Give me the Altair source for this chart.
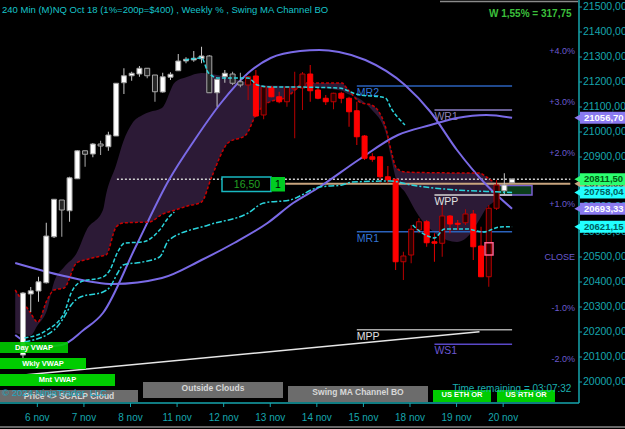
import altair as alt
import pandas as pd

FONT = "Liberation Sans"
TEAL = "#16a6ae"

# ---------------- candles (240 min bars) ----------------
opens = [20108, 20352, 20364, 20397, 20581, 20728, 20685, 20813, 20925, 20912,
         20952, 20941, 20984, 21197, 21225, 21232, 21255, 21228, 21160, 21219,
         21245, 21284, 21288, 21293, 21304, 21157, 21221, 21232, 21201, 21188,
         21224, 21068, 21179, 21141, 21121, 21172, 21176, 21232, 21168, 21135,
         21121, 21155, 21135, 21085, 20984, 20901, 20901, 20821, 20811, 20481,
         20508, 20608, 20641, 20561, 20555, 20664, 20635, 20637, 20672, 20544,
         20421, 20695, 20765, 20797]
highs = [20360, 20380, 20421, 20637, 20732, 20728, 20821, 20928, 20925, 20956,
         20965, 21001, 21196, 21255, 21241, 21264, 21256, 21228, 21237, 21239,
         21312, 21299, 21324, 21341, 21308, 21211, 21248, 21241, 21237, 21224,
         21248, 21184, 21184, 21161, 21181, 21241, 21240, 21268, 21181, 21148,
         21157, 21161, 21141, 21121, 20988, 20915, 20901, 20864, 20812, 20521,
         20628, 20655, 20648, 20595, 20708, 20668, 20648, 20691, 20688, 20621,
         20708, 20808, 20835, 20815]
lows = [20090, 20280, 20321, 20394, 20576, 20581, 20641, 20812, 20861, 20899,
        20908, 20925, 20984, 21152, 21205, 21221, 21215, 21121, 21157, 21208,
        21244, 21275, 21281, 21275, 21156, 21101, 21197, 21188, 21179, 21128,
        21060, 21051, 21139, 21115, 21101, 20975, 21088, 21121, 21131, 21108,
        21091, 21115, 21021, 20948, 20888, 20881, 20795, 20795, 20448, 20408,
        20475, 20595, 20541, 20481, 20501, 20595, 20608, 20628, 20488, 20421,
        20381, 20688, 20748, 20796]
closes = [20356, 20365, 20401, 20584, 20731, 20688, 20817, 20925, 20911, 20952,
          20944, 20988, 21195, 21225, 21235, 21255, 21225, 21161, 21221, 21231,
          21284, 21291, 21295, 21304, 21157, 21211, 21235, 21195, 21188, 21221,
          21064, 21181, 21141, 21121, 21179, 21176, 21232, 21165, 21135, 21121,
          21155, 21135, 21081, 20981, 20895, 20891, 20821, 20808, 20481, 20504,
          20611, 20641, 20557, 20555, 20664, 20632, 20631, 20672, 20541, 20421,
          20695, 20788, 20788, 20811.5]
# W = white up, G = grey down, R = red down, D = dark red up
kinds = ["W", "W", "W", "W", "W", "G", "W", "W", "G", "W",
         "G", "W", "W", "W", "W", "W", "G", "G", "W", "W",
         "W", "W", "W", "W", "G", "W", "W", "G", "G", "D",
         "R", "D", "R", "R", "D", "D", "D", "R", "R", "R",
         "D", "R", "R", "R", "R", "R", "R", "R", "R", "D",
         "D", "D", "R", "R", "D", "R", "R", "D", "R", "R",
         "D", "D", "W", "W"]

# ---------------- axes ----------------
day_labels = ["6 nov", "7 nov", "8 nov", "11 nov", "12 nov", "13 nov",
              "14 nov", "15 nov", "18 nov", "19 nov", "20 nov"]
day_start_bar = [1.85, 7.85, 13.85, 19.85, 25.85, 31.85, 37.85, 43.85, 49.85, 55.85, 61.85]
price_ticks = list(range(20000, 21501, 100))

# ---------------- overlays ----------------
cloud_i = [-1.0, 0.9, 1.9, 3.1, 4.0, 5.3, 6.9, 8.2, 10.3, 10.7, 12.0, 12.9, 14.1, 15.4, 16.3,
           17.9, 19.6, 21.1, 23.0, 24.3, 26.4, 28.7, 30.0, 31.5, 34.0, 35.3, 36.0, 41.1, 41.6,
           43.6, 44.9, 46.7, 47.4, 48.1, 49.2, 50.9, 53.4, 55.9, 57.8, 58.8, 59.7, 60.6, 61.6, 63.0]
cloud_a = [20368, 20280, 20240, 20328, 20368, 20376, 20476, 20490, 20505, 20508, 20620, 20636,
           20638, 20639, 20640, 20670, 20688, 20703, 20720, 20820, 20956, 20988, 21068, 21116,
           21140, 21176, 21196, 21196, 21180, 21116, 21108, 21020, 20928, 20856, 20840, 20838,
           20837, 20836, 20836, 20836, 20820, 20800, 20795, 20790]
cloud_b = [20196, 20184, 20228, 20288, 20400, 20460, 20515, 20608, 20688, 20750, 20868, 20960,
           21036, 21068, 21080, 21096, 21200, 21220, 21236, 21232, 21218, 21200, 21190, 21186,
           21184, 21184, 21182, 21165, 21156, 21128, 21090, 21000, 20900, 20808, 20760, 20668,
           20588, 20560, 20600, 20650, 20696, 20720, 20748, 20768]

chan_i = [-1.0, 5.3, 11.6, 17.9, 23.0, 27.2, 31.5, 34.8, 38.2, 43.2, 48.3, 52.5, 55.9, 59.7, 63.0]
chan_p = [20476, 20424, 20392, 20416, 20488, 20556, 20636, 20716, 20780, 20888, 20988, 21028,
          21056, 21068, 21056.70]

arc_i = [-1.0, 2.1, 5.0, 7.8, 10.3, 14.5, 18.8, 22.1, 25.5, 29.0, 31.9, 35.7, 38.2, 40.7, 44.1,
         49.2, 52.5, 55.9, 59.7, 63.0]
arc_p = [20188, 20140, 20148, 20208, 20276, 20540, 20808, 20968, 21116, 21236, 21296, 21324,
         21328, 21320, 21288, 21188, 21080, 20928, 20788, 20693.33]

wk1_i = [0.2, 3.1, 5.3, 6.2, 7.4, 10.3, 11.2, 12.2, 13.1, 15.4, 17.6, 18.8, 19.5]
wk1_p = [20176, 20208, 20276, 20356, 20400, 20420, 20448, 20520, 20556, 20560, 20608, 20660, 20680]
wk2_i = [20.9, 23.0, 23.9, 25.2, 29.0, 30.2, 31.9, 34.0, 40.7, 42.9, 46.7, 47.4, 49.2]
wk2_p = [21288, 21296, 21236, 21216, 21216, 21188, 21180, 21180, 21176, 21152, 21136, 21096, 21028]
wk3_i = [50.2, 51.2, 52.5, 53.0, 54.3, 57.2, 59.3, 61.4, 63.0]
wk3_p = [20628, 20600, 20580, 20576, 20612, 20612, 20600, 20620, 20621.15]
mon_i = [0.2, 4.0, 5.3, 6.2, 7.4, 10.3, 11.2, 12.2, 12.9, 15.4, 17.6, 18.8, 23.9, 29.0, 31.0,
         34.4, 38.2, 41.1, 42.4, 47.4, 50.0, 55.9, 59.7, 63.0]
mon_p = [20160, 20208, 20260, 20308, 20340, 20360, 20380, 20436, 20468, 20480, 20500, 20568,
         20628, 20676, 20716, 20728, 20780, 20788, 20800, 20804, 20788, 20768, 20762, 20758.04]

diag_i = [-2.3, 58.8]
diag_p = [20021, 20201]

piv_names = ["MR2", "WR1", "WPP", "MR1", "MPP", "WS1"]
piv_price = [21184, 21088, 20748, 20601, 20209, 20151]
piv_start = [43.0, 53.0, 53.0, 43.0, 43.0, 53.0]
piv_end = [63.0, 63.0, 63.0, 63.0, 63.0, 63.0]
piv_line_col = ["#2b62bc", "#8c7fc8", "#d6d6d6", "#2b62bc", "#a8a8a8", "#5a48c8"]
piv_text_col = ["#3476d6", "#8c80b4", "#e0e0e0", "#3476d6", "#e0e0e0", "#6a56d0"]

pct_text = ["+4.0%", "+3.0%", "+2.0%", "+1.0%", "CLOSE", "-1.0%", "-2.0%"]
pct_price = [21325, 21121, 20916, 20712, 20501, 20297, 20091]

last_price = 20811.50
tan_price = 20793
dotted_start, tan_start, lines_end = 12.1, 33.8, 70.5

tag_price = [21056.70, 20793.00, 20811.50, 20758.04, 20693.33, 20621.15]
tag_text = ["21056,70", "20793,00", "20811,50", "20758,04", "20693,33", "20621,15"]
tag_fill = ["#8a7af0", "#c8a882", "#2cff70", "#22ffff", "#8a7af0", "#22ffff"]
tag_tcol = ["#ffffff", "#222222", "#005a10", "#006060", "#ffffff", "#006060"]

# ---------------- scales ----------------
XS = alt.Scale(domain=[-2.316, 70.975], nice=False, zero=False)
YS = alt.Scale(domain=[19916, 21528], nice=False, zero=False)


def xe(f):
    return alt.X(f, type="quantitative", scale=XS, axis=None)


def ye(f):
    return alt.Y(f, type="quantitative", scale=YS, axis=None)


style = {
    "W": ("#ffffff", "#9a9a9a", "#c8c8c8"),
    "G": ("#262626", "#a8a8a8", "#a8a8a8"),
    "R": ("#ff0000", "#ff0000", "#e00000"),
    "D": ("#2a0000", "#b80000", "#b80000"),
}
cdf = pd.DataFrame({"i": list(range(len(opens))), "o": opens, "h": highs, "l": lows, "c": closes, "k": kinds})
cdf["fill"] = [style[k][0] for k in kinds]
cdf["stroke"] = [style[k][1] for k in kinds]
cdf["wick"] = [style[k][2] for k in kinds]


def line(i, p, color, width=1.5, dash=None, interp="monotone"):
    kw = dict(color=color, strokeWidth=width, interpolate=interp)
    if dash:
        kw["strokeDash"] = dash
    return alt.Chart(pd.DataFrame({"i": i, "p": p})).mark_line(**kw).encode(x=xe("i"), y=ye("p"))


def one():
    return alt.Chart(pd.DataFrame({"k": [0]}))


def box(x0, x1, y0, y1, fill, stroke="", sw=0, opacity=1.0):
    kw = dict(fill=fill, opacity=opacity)
    if stroke:
        kw["stroke"] = stroke
        kw["strokeWidth"] = sw
    return one().mark_rect(**kw).encode(x=alt.value(x0), x2=alt.value(x1), y=alt.value(y0), y2=alt.value(y1))


def label(txt, x, y, color, size, bold=False, align="left"):
    return alt.Chart(pd.DataFrame({"t": [txt]})).mark_text(
        font=FONT, fontSize=size, color=color, align=align, baseline="middle",
        fontWeight="bold" if bold else "normal").encode(x=alt.value(x), y=alt.value(y), text="t:N")


layers = []

# cloud
layers.append(alt.Chart(pd.DataFrame({"i": cloud_i, "a": cloud_a, "b": cloud_b}))
              .mark_area(color="#2c1a36", opacity=1, interpolate="monotone")
              .encode(x=xe("i"), y=ye("a"), y2="b"))

# dark green box near the last bars
layers.append(box(498, 532, 185.5, 195, "#0b3d1c", "#7a5fd0", 1.5))

# pivot lines and labels
pdf = pd.DataFrame({"n": piv_names, "p": piv_price, "s": piv_start, "e": piv_end,
                    "lc": piv_line_col, "tc": piv_text_col})
layers.append(alt.Chart(pdf).mark_rule(strokeWidth=1.5).encode(
    x=xe("s"), x2="e", y=ye("p"), color=alt.Color("lc:N", scale=None)))
layers.append(alt.Chart(pdf).mark_text(font=FONT, fontSize=10.5, align="left", baseline="top", dy=2).encode(
    x=xe("s"), y=ye("p"), text="n:N", color=alt.Color("tc:N", scale=None)))

# monthly diagonal
layers.append(line(diag_i, diag_p, "#e6e6e6", 1.5, interp="linear"))

# dotted last-price line and tan line
layers.append(alt.Chart(pd.DataFrame({"s": [dotted_start], "e": [lines_end], "p": [last_price]}))
              .mark_rule(color="#d0d0d0", strokeWidth=1.5, strokeDash=[2, 2])
              .encode(x=xe("s"), x2="e", y=ye("p")))
layers.append(alt.Chart(pd.DataFrame({"s": [tan_start], "e": [lines_end], "p": [tan_price]}))
              .mark_rule(color="#c8a47e", strokeWidth=2)
              .encode(x=xe("s"), x2="e", y=ye("p")))

# channel lines
layers.append(line(chan_i, chan_p, "#7a6ae6", 2))
layers.append(line(arc_i, arc_p, "#7a6ae6", 2))

# red dashed cloud edge
layers.append(line(cloud_i[:-2], cloud_a[:-2], "#c80000", 1.5, [3, 2]))

# candles
layers.append(alt.Chart(cdf).mark_rule(strokeWidth=1).encode(
    x=xe("i"), y=ye("l"), y2="h", color=alt.Color("wick:N", scale=None)))
layers.append(alt.Chart(cdf).mark_bar(size=5, strokeWidth=1).encode(
    x=xe("i"), y=ye("o"), y2="c",
    fill=alt.Fill("fill:N", scale=None), stroke=alt.Stroke("stroke:N", scale=None)))

# VWAP lines
layers.append(line(wk1_i, wk1_p, "#2ad4dc", 1.5, [4, 2]))
layers.append(line(wk2_i, wk2_p, "#2ad4dc", 1.5, [4, 2]))
layers.append(line(wk3_i, wk3_p, "#2ad4dc", 1.5, [4, 2]))
layers.append(line(mon_i, mon_p, "#2ad4dc", 1.5, [6, 2, 2, 2]))

# pink marker
layers.append(box(485, 493, 242.7, 255, "transparent", "#ff6090", 1.5))

# position box
layers.append(box(222, 271, 177, 191.5, "#000000", "#18b8c0", 1.5))
layers.append(box(271, 285, 177, 191.5, "#00cc22"))
layers.append(label("16,50", 247, 184.5, "#22a022", 10.5, align="center"))
layers.append(label("1", 278, 184.5, "#000000", 10.5, align="center"))

# percent labels
layers.append(alt.Chart(pd.DataFrame({"t": pct_text, "p": pct_price})).mark_text(
    font=FONT, fontSize=9, color="#6a5acd", align="right", baseline="middle").encode(
    x=alt.value(575), y=ye("p"), text="t:N"))

# ---------------- axes drawn through the scales ----------------
xt = pd.DataFrame({"i": day_start_bar, "t": day_labels})
yt = pd.DataFrame({"p": price_ticks, "t": [("%.2f" % v).replace(".", ",") for v in price_ticks]})
layers.append(one().mark_rule(color=TEAL, strokeWidth=1.5).encode(
    x=alt.value(0), x2=alt.value(579), y=alt.value(403)))
layers.append(one().mark_rule(color=TEAL, strokeWidth=1.5).encode(
    x=alt.value(579), y=alt.value(0), y2=alt.value(403)))
layers.append(alt.Chart(xt).mark_rule(color=TEAL, strokeWidth=1).encode(
    x=xe("i"), y=alt.value(403), y2=alt.value(407)))
layers.append(alt.Chart(xt).mark_text(font=FONT, fontSize=10, color=TEAL, align="center",
                                      baseline="middle").encode(
    x=xe("i"), y=alt.value(418), text="t:N"))
layers.append(alt.Chart(yt).mark_rule(color=TEAL, strokeWidth=1).encode(
    x=alt.value(579), x2=alt.value(582), y=ye("p")))
layers.append(alt.Chart(yt).mark_text(font=FONT, fontSize=10.5, color=TEAL, align="left",
                                      baseline="middle").encode(
    x=alt.value(583), y=ye("p"), text="t:N"))

# header texts
layers.append(label("240 Min (M)NQ Oct 18 (1%=200p=$400) , Weekly % , Swing MA Channel BO",
                    2, 10, "#17c3c9", 9.5))
layers.append(label("W 1,55% = 317,75", 489, 14, "#3cc03c", 10, bold=True))

# bottom legend boxes
GREEN, GREY = "#00cc00", "#6c6c6c"
legend_boxes = [
    ("Day VWAP", 0, 68, 342, 353, GREEN, "#ffffff", 7.5, 347.5, 0.9),
    ("Wkly VWAP", 0, 86, 358, 369, GREEN, "#ffffff", 7.5, 363.5, 1.0),
    ("Mnt VWAP", 0, 115, 374, 386, GREEN, "#ffffff", 7.5, 380, 1.0),
    ("Price <> SCALP Cloud", 0, 138, 390, 402, GREY, "#d8d8d8", 8.5, 396, 1.0),
    ("Outside Clouds", 143, 283, 382, 398, GREY, "#d8d8d8", 8.5, 388, 1.0),
    ("Swing MA Channel BO", 288, 428, 386, 402, GREY, "#d8d8d8", 8.5, 391.5, 1.0),
    ("US ETH OR", 433, 491, 390, 402, GREEN, "#ffffff", 7.5, 394.5, 1.0),
    ("US RTH OR", 497, 555, 390, 402, GREEN, "#ffffff", 7.5, 394.5, 1.0),
]
for t, x0, x1, y0, y1, f, tc, fs, ty, op in legend_boxes:
    layers.append(box(x0, x1, y0, y1, f, opacity=op))
    layers.append(label(t, (x0 + x1) / 2, ty, tc, fs, bold=True, align="center"))

layers.append(label("\u00a9 2024 NinjaTrader, LLC", 2, 393, "#1aa8c0", 9.5))
layers.append(label("Time remaining = 03:07:32", 512, 389, "#1ab0b0", 10, align="center"))

# price tags on the right axis, each drawn fully before the next one
for p, t, f, tc in zip(tag_price, tag_text, tag_fill, tag_tcol):
    tdf = pd.DataFrame({"p": [p], "t": [t]})
    layers.append(alt.Chart(tdf).mark_rule(strokeWidth=12, color=f).encode(
        x=alt.value(580), x2=alt.value(626), y=ye("p")))
    layers.append(alt.Chart(tdf).mark_point(shape="triangle-left", filled=True, size=70, opacity=1,
                                            color=f).encode(x=alt.value(578), y=ye("p")))
    layers.append(alt.Chart(tdf).mark_text(font=FONT, fontSize=9.5, fontWeight="bold", align="left",
                                           baseline="middle", color=tc).encode(
        x=alt.value(584), y=ye("p"), text="t:N"))

# frame lines
layers.append(one().mark_rule(color="#8a8a8a", strokeWidth=1.5).encode(
    x=alt.value(440), x2=alt.value(578), y=alt.value(1.5)))
layers.append(one().mark_rule(color="#8a8a8a", strokeWidth=1.5).encode(
    x=alt.value(0), x2=alt.value(625), y=alt.value(427)))

chart = alt.layer(*layers).properties(
    width=579, height=403,
    autosize=alt.AutoSizeParams(type="none"),
    padding={"left": 0, "top": 0, "right": 46, "bottom": 26},
    background="#000000",
).configure_view(strokeWidth=0)

chart.save("out.html", embed_options={"renderer": "svg", "actions": False})
